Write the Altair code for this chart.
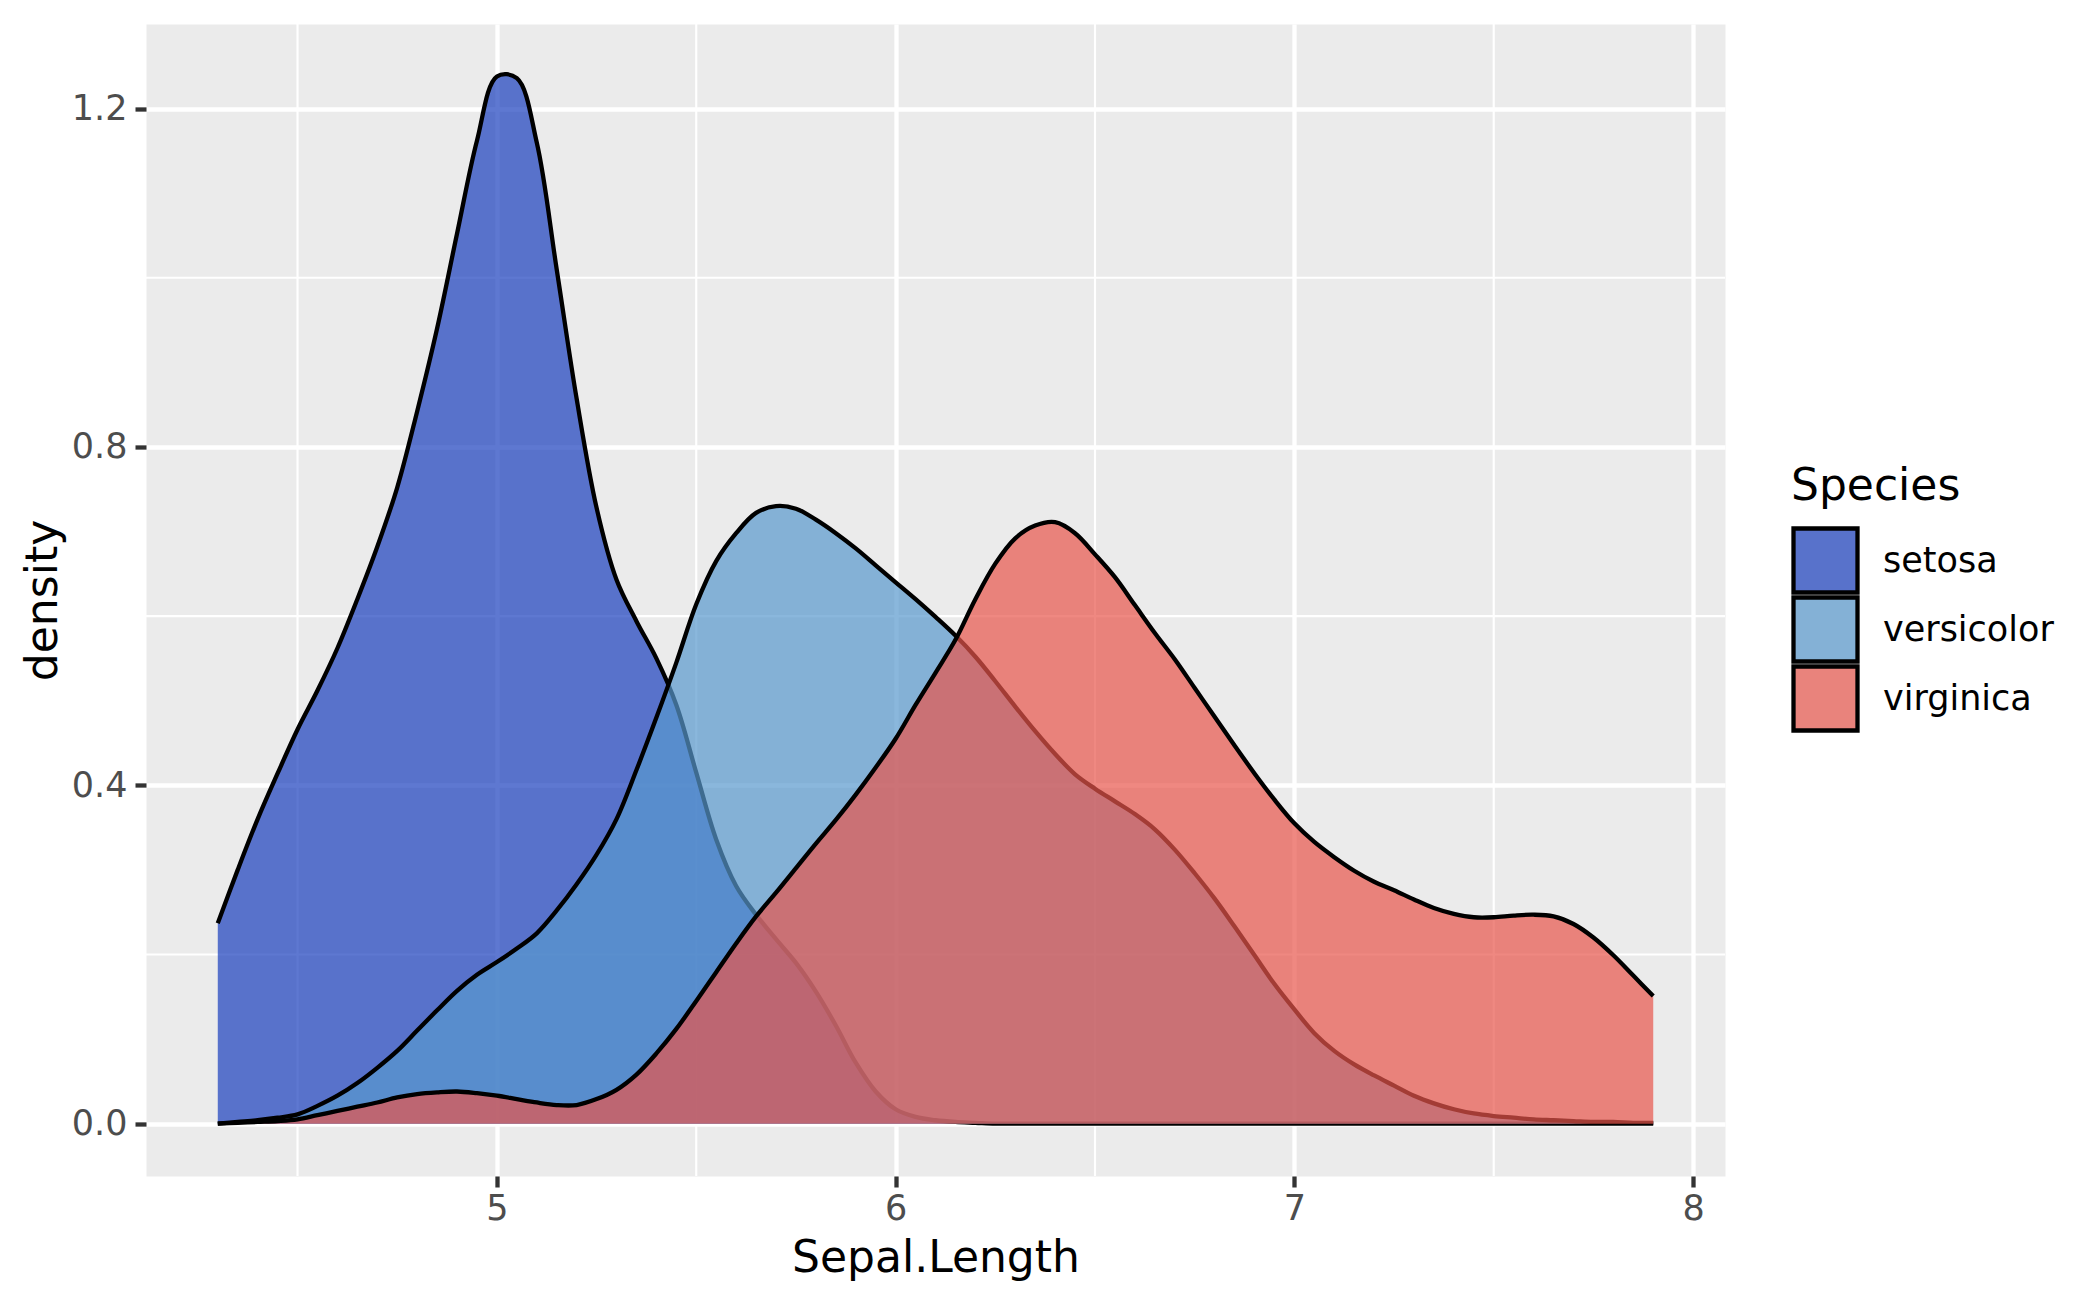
import altair as alt
import pandas as pd

# ---- data ----
x_grid = [4.30, 4.35, 4.40, 4.45, 4.50, 4.55, 4.60, 4.65, 4.70, 4.75,
          4.80, 4.85, 4.90, 4.95, 5.00, 5.05, 5.10, 5.15, 5.20, 5.25,
          5.30, 5.35, 5.40, 5.45, 5.50, 5.55, 5.60, 5.65, 5.70, 5.75,
          5.80, 5.85, 5.90, 5.95, 6.00, 6.05, 6.10, 6.15, 6.20, 6.25,
          6.30, 6.35, 6.40, 6.45, 6.50, 6.55, 6.60, 6.65, 6.70, 6.75,
          6.80, 6.85, 6.90, 6.95, 7.00, 7.05, 7.10, 7.15, 7.20, 7.25,
          7.30, 7.35, 7.40, 7.45, 7.50, 7.55, 7.60, 7.65, 7.70, 7.75,
          7.80, 7.85, 7.90]

setosa = [0.237, 0.300, 0.360, 0.414, 0.466, 0.512, 0.562, 0.620, 0.682, 0.752,
          0.842, 0.940, 1.052, 1.162, 1.238, 1.236, 1.160, 1.010, 0.857, 0.728,
          0.643, 0.594, 0.550, 0.495, 0.415, 0.336, 0.281, 0.247, 0.218, 0.190,
          0.156, 0.116, 0.072, 0.038, 0.017, 0.008, 0.004, 0.002, 0.001, 0.000,
          0.000, 0.000, 0.000, 0.000, 0.000, 0.000, 0.000, 0.000, 0.000, 0.000,
          0.000, 0.000, 0.000, 0.000, 0.000, 0.000, 0.000, 0.000, 0.000, 0.000,
          0.000, 0.000, 0.000, 0.000, 0.000, 0.000, 0.000, 0.000, 0.000, 0.000,
          0.000, 0.000, 0.000]

versicolor = [0.000, 0.002, 0.004, 0.007, 0.011, 0.021, 0.033, 0.048, 0.066, 0.086,
              0.110, 0.134, 0.157, 0.176, 0.191, 0.207, 0.225, 0.252, 0.283, 0.318,
              0.360, 0.418, 0.480, 0.545, 0.614, 0.665, 0.698, 0.722, 0.730, 0.727,
              0.714, 0.698, 0.680, 0.660, 0.640, 0.620, 0.599, 0.577, 0.552, 0.523,
              0.493, 0.464, 0.437, 0.413, 0.396, 0.381, 0.366, 0.348, 0.324, 0.296,
              0.266, 0.233, 0.199, 0.165, 0.135, 0.107, 0.086, 0.070, 0.057, 0.045,
              0.033, 0.024, 0.017, 0.012, 0.009, 0.007, 0.005, 0.004, 0.003, 0.002,
              0.002, 0.001, 0.001]

virginica = [0.000, 0.001, 0.002, 0.003, 0.005, 0.010, 0.015, 0.020, 0.025, 0.031,
             0.035, 0.037, 0.038, 0.036, 0.033, 0.029, 0.025, 0.022, 0.022, 0.029,
             0.040, 0.058, 0.083, 0.112, 0.145, 0.179, 0.213, 0.245, 0.273, 0.302,
             0.331, 0.359, 0.389, 0.421, 0.455, 0.495, 0.533, 0.572, 0.620, 0.662,
             0.692, 0.707, 0.711, 0.698, 0.673, 0.646, 0.613, 0.580, 0.549, 0.515,
             0.481, 0.447, 0.414, 0.383, 0.355, 0.333, 0.315, 0.299, 0.286, 0.276,
             0.265, 0.255, 0.248, 0.244, 0.244, 0.246, 0.247, 0.245, 0.236, 0.220,
             0.199, 0.175, 0.151]

species = ["setosa", "versicolor", "virginica"]
fill_colors = ["#193EBD", "#5898CD", "#E8564C"]
legend_colors = ["#5872CB", "#84B1D6", "#E9837C"]

x_ticks = [5, 6, 7, 8]
y_ticks = [0.0, 0.4, 0.8, 1.2]
minor_x = [4.5, 5.5, 6.5, 7.5]
minor_y = [0.2, 0.6, 1.0]

# ---- build table ----
rows = []
for sp, vals in zip(species, [setosa, versicolor, virginica]):
    for xv, dv in zip(x_grid, vals):
        rows.append({"sepal_length": xv, "density": dv, "Species": sp})
df = pd.DataFrame(rows)

FONT = "DejaVu Sans"
LW = 4.3
xscale = alt.Scale(domain=[4.12, 8.08], nice=False, zero=False)
yscale = alt.Scale(domain=[-0.0619, 1.3000], nice=False, zero=False)

xaxis = alt.Axis(values=x_ticks, title="Sepal.Length", grid=True, format="d")
yaxis = alt.Axis(values=y_ticks, title="density", grid=True, format=".1f")

X = alt.X("sepal_length:Q", scale=xscale, axis=xaxis)
Y = alt.Y("density:Q", scale=yscale, axis=yaxis, stack=None)

minor_x_layer = alt.Chart(pd.DataFrame({"sepal_length": minor_x})).mark_rule(
    color="white", strokeWidth=LW / 2
).encode(x=X)

minor_y_layer = alt.Chart(pd.DataFrame({"density": minor_y})).mark_rule(
    color="white", strokeWidth=LW / 2
).encode(y=Y)

layers = [minor_x_layer, minor_y_layer]
for sp, col in zip(species, fill_colors):
    sub = alt.Chart(df).transform_filter(alt.datum.Species == sp)
    area = sub.mark_area(opacity=0.7, interpolate="catmull-rom").encode(
        x=X, y=Y, y2=alt.datum(0), fill=alt.value(col)
    )
    line = sub.mark_line(color="black", strokeWidth=LW, interpolate="catmull-rom").encode(
        x=X, y=Y
    )
    layers += [area, line]

legend_layer = alt.Chart(df).transform_filter("false").mark_square(
    filled=True, opacity=1
).encode(
    x=X,
    y=Y,
    fill=alt.Fill(
        "Species:N",
        scale=alt.Scale(domain=species, range=legend_colors),
        legend=alt.Legend(
            title="Species",
            orient="none",
            legendX=1645,
            legendY=441,
            symbolType="square",
            symbolSize=4096,
            symbolStrokeColor="black",
            symbolStrokeWidth=LW,
            symbolOpacity=1,
            clipHeight=69,
            rowPadding=0,
            labelOffset=23,
            labelLimit=500,
            titlePadding=17,
            padding=0,
        ),
    ),
)
layers.append(legend_layer)

chart = alt.layer(*layers).properties(
    width=1579,
    height=1152,
    padding={"left": 13, "top": 14, "right": 5, "bottom": 5},
).configure_view(
    fill="#EBEBEB", stroke="transparent"
).configure_axis(
    gridColor="white",
    gridWidth=LW,
    domain=False,
    tickColor="#333333",
    tickWidth=LW,
    tickSize=11,
    labelColor="#4D4D4D",
    labelFont=FONT,
    labelFontSize=35,
    labelPadding=8,
    titleFont=FONT,
    titleFontSize=44,
    titleFontWeight="normal",
    titleColor="black",
    titlePadding=6,
).configure_axisX(
    labelPadding=4,
    titlePadding=10,
).configure_legend(
    titleFont=FONT,
    titleFontSize=44,
    titleFontWeight="normal",
    titleColor="black",
    labelFont=FONT,
    labelFontSize=35,
    labelColor="black",
)

chart.save("out.html", embed_options={"renderer": "svg", "actions": False})
